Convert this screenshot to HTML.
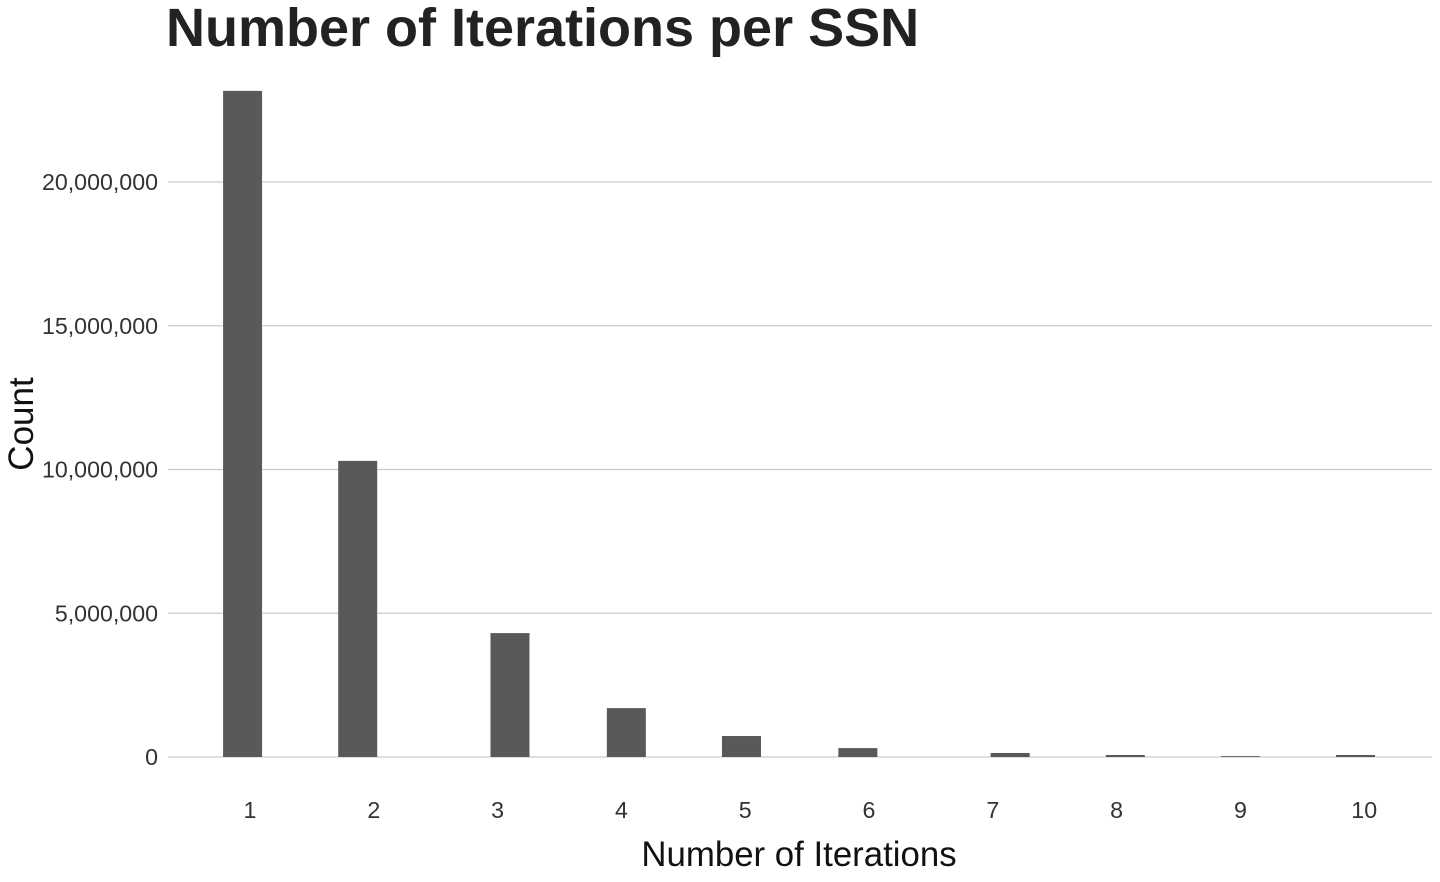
<!DOCTYPE html>
<html><head><meta charset="utf-8"><style>
body{margin:0;background:#fff;width:1440px;height:877px;overflow:hidden;font-family:"Liberation Sans",sans-serif;}
</style></head><body>
<svg id="chart" width="1440" height="877" xmlns="http://www.w3.org/2000/svg">
<text x="166" y="46" font-size="54" font-weight="bold" fill="#222">Number of Iterations per SSN</text>
<text x="799" y="866" font-size="34.8" fill="#111" text-anchor="middle">Number of Iterations</text>
<text transform="translate(33,424) rotate(-90)" font-size="35" fill="#111" text-anchor="middle">Count</text>
<g id="grid"></g><g id="bars"></g><g id="xt"></g><g id="yt"></g>
</svg>
<script>
const binCenters=[0.94,1.87,3.10,4.04,4.97,5.91,7.14,8.07,9.0,9.93];
const counts=[23170000,10300000,4310000,1700000,730000,310000,140000,70000,30000,70000];
const xTicks=[1,2,3,4,5,6,7,8,9,10];
const yTicks=[0,5000000,10000000,15000000,20000000];
const yTickLabels=["0","5,000,000","10,000,000","15,000,000","20,000,000"];
const binWidth=0.315;
const NS="http://www.w3.org/2000/svg";
const x=v=>250+(v-1)*123.8;
const y=v=>757-v/1e6*28.75;
function mk(t,a,p){const e=document.createElementNS(NS,t);for(const k in a)e.setAttribute(k,a[k]);document.getElementById(p).appendChild(e);return e;}
yTicks.forEach((t,i)=>{
 const l=mk('line',{x1:168,x2:1432,y1:y(t),y2:y(t),stroke:'#cccccc','stroke-width':1.2},'grid');
 
 
 const tx=mk('text',{x:158,y:y(t)+8,'font-size':23.2,fill:'#333','text-anchor':'end'},'yt');
 tx.textContent=yTickLabels[i];
 
 
});
xTicks.forEach(t=>{
 const tx=mk('text',{x:x(t),y:818,'font-size':23.2,fill:'#333','text-anchor':'middle'},'xt');
 tx.textContent=t;
 
 
});
binCenters.forEach((c,i)=>{
 const w=binWidth*123.8;
 const r=mk('rect',{x:x(c)-w/2,y:y(counts[i]),width:w,height:y(0)-y(counts[i]),fill:'#595959'},'bars');
 
 
});
</script>
</body></html>
